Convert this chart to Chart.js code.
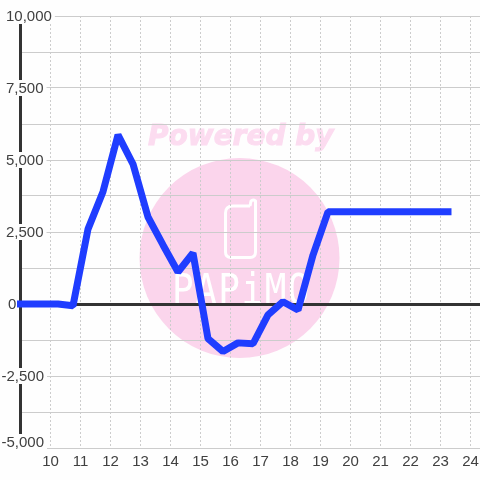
<!DOCTYPE html>
<html>
<head>
<meta charset="utf-8">
<script src="https://cdn.jsdelivr.net/npm/chart.js@4"></script>
<style>
  html, body { margin: 0; padding: 0; background: #fefefe; }
  canvas { display: block; }
</style>
</head>
<body>
<canvas id="myChart" width="480" height="480"></canvas>
<script>
// hours of the day on x, one point every half hour
const hours = [9, 9.75, 10.25, 10.75, 11.25, 11.75, 12.25, 12.75, 13.25, 13.75, 14.25, 14.75, 15.25, 15.75,
  16.25, 16.75, 17.25, 17.75, 18.25, 18.75, 19.25, 19.75, 20.25, 20.75, 21.25, 21.75, 22.25, 22.75, 23.25];
const profit = [0, 0, 0, -60, 2600, 3900, 5870, 4860, 3020, 2050, 1110, 1770, -1200, -1650,
  -1350, -1380, -380, 80, -210, 1700, 3200, 3200, 3200, 3200, 3200, 3200, 3200, 3200, 3200];
const yTickValues = [10000, 7500, 5000, 2500, 0, -2500, -5000];
const yTickLabels = ["10,000", "7,500", "5,000", "2,500", "0", "-2,500", "-5,000"];

const INK = "#404040";
const GRID = "#cccccc";
const LABEL_FONT = "15px 'Liberation Sans', Arial, sans-serif";

// pink logo behind the grid
const watermark = {
  id: "watermark",
  beforeDraw(chart) {
    const ctx = chart.ctx;
    ctx.save();
    ctx.fillStyle = "#fefefe";
    ctx.fillRect(0, 0, 480, 480);

    ctx.fillStyle = "#fbd5ec";
    ctx.beginPath();
    ctx.arc(239.5, 258, 100, 0, Math.PI * 2);
    ctx.fill();

    ctx.fillStyle = "#fcdcf0";
    ctx.strokeStyle = "#fcdcf0";
    ctx.lineWidth = 1;
    ctx.font = "italic bold 28px 'DejaVu Sans', sans-serif";
    ctx.textAlign = "left";
    ctx.textBaseline = "alphabetic";
    ctx.fillText("Powered by", 148, 145);
    ctx.strokeText("Powered by", 148, 145);

    // phone outline
    ctx.strokeStyle = "#ffffff";
    ctx.lineWidth = 3;
    ctx.lineJoin = "round";
    ctx.beginPath();
    ctx.moveTo(250, 206);
    ctx.lineTo(233, 206);
    ctx.quadraticCurveTo(225.5, 206, 225.5, 213);
    ctx.lineTo(225.5, 252);
    ctx.quadraticCurveTo(225.5, 257.5, 231, 257.5);
    ctx.lineTo(250, 257.5);
    ctx.quadraticCurveTo(255.5, 257.5, 255.5, 252);
    ctx.lineTo(255.5, 201);
    ctx.quadraticCurveTo(253, 199, 251, 201);
    ctx.lineTo(250, 206);
    ctx.stroke();

    // brand name, stretched upward a little
    ctx.translate(172, 304);
    ctx.scale(1, 1.2);
    ctx.fillStyle = "#ffffff";
    ctx.font = "36px 'DejaVu Sans Mono', monospace";
    ctx.letterSpacing = "1.5px";
    ctx.fillText("PAPiMO", 0, 0);
    ctx.restore();
  }
};

// y labels sit on the axis line with a white box behind them
const yLabels = {
  id: "yLabels",
  beforeDatasetsDraw(chart) {
    const ctx = chart.ctx;
    const yScale = chart.scales.y;
    ctx.save();
    ctx.font = LABEL_FONT;
    ctx.textBaseline = "middle";
    ctx.textAlign = "left";
    yTickValues.forEach(function (value, i) {
      const label = yTickLabels[i];
      const w = ctx.measureText(label).width;
      let y = yScale.getPixelForValue(value);
      if (value === -5000) y -= 6;
      const x = label.charAt(0) === "-" ? 1.5 : (label === "0" ? 8 : 6);
      if (label !== "0") {
        ctx.fillStyle = "#fefefe";
        ctx.fillRect(x, y - 8, w + 3, 16);
      }
      ctx.fillStyle = INK;
      ctx.fillText(label, x, y + 1);
    });
    ctx.restore();
  }
};

document.addEventListener("DOMContentLoaded", function () {
  const ctx = document.getElementById("myChart").getContext("2d");
  new Chart(ctx, {
    type: "line",
    data: {
      datasets: [{
        data: hours.map(function (h, i) { return { x: h, y: profit[i] }; }),
        borderColor: "#1f3dff",
        borderWidth: 7,
        borderCapStyle: "square",
        borderJoinStyle: "bevel",
        pointRadius: 0,
        tension: 0,
        fill: false,
        clip: false
      }]
    },
    options: {
      responsive: false,
      animation: false,
      layout: { padding: { top: 16, left: 0, right: 0, bottom: 0 } },
      plugins: { legend: { display: false }, tooltip: { enabled: false } },
      scales: {
        x: {
          type: "linear",
          min: 9,
          max: 24.317,
          afterFit(scale) {
            scale.height = 32;
            scale.paddingRight = 0;
            scale.paddingLeft = 0;
          },
          grid: {
            color: GRID,
            lineWidth: 1,
            drawTicks: false
          },
          border: { display: true, color: GRID, width: 1, dash: [2, 2] },
          ticks: {
            stepSize: 1,
            includeBounds: false,
            autoSkip: false,
            maxRotation: 0,
            padding: 5,
            color: INK,
            font: { family: "'Liberation Sans', Arial, sans-serif", size: 15 },
            callback: function (v) { return v >= 10 ? String(v) : ""; }
          }
        },
        y: {
          min: -5000,
          max: 10000,
          afterFit(scale) { scale.width = 20.5; },
          grid: {
            drawTicks: false,
            color: function (c) { return c.tick.value === 0 ? "#333333" : GRID; },
            lineWidth: function (c) { return c.tick.value === 0 ? 3 : 1; }
          },
          border: { display: true, color: "#333333", width: 3 },
          ticks: { stepSize: 1250, display: false }
        }
      }
    },
    plugins: [watermark, yLabels]
  });
});
</script>
</body>
</html>
